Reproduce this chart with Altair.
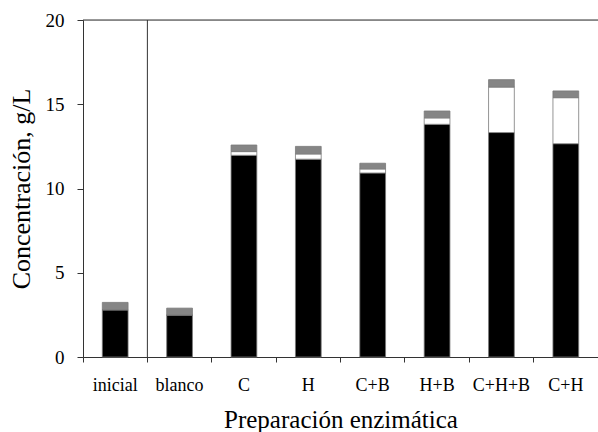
import altair as alt
import pandas as pd

categories = ["inicial", "blanco", "C", "H", "C+B", "H+B", "C+H+B", "C+H"]
black_vals = [2.80, 2.49, 11.97, 11.74, 10.92, 13.81, 13.32, 12.66]
white_vals = [0.00, 0.00, 0.22, 0.31, 0.24, 0.38, 2.70, 2.73]
gray_vals = [0.44, 0.41, 0.39, 0.45, 0.34, 0.41, 0.44, 0.40]
series = ["negro", "blanco_s", "gris"]
series_colors = ["#000000", "#ffffff", "#858585"]

rows = []
for i, c in enumerate(categories):
    for k, (s, vals) in enumerate(zip(series, [black_vals, white_vals, gray_vals])):
        rows.append({"cat": c, "serie": s, "orden": k, "valor": vals[i]})
df = pd.DataFrame(rows)

font = "Liberation Serif"

x_scale = alt.Scale(paddingInner=0, paddingOuter=0)

x_enc = alt.X(
    "cat:N",
    sort=categories,
    scale=x_scale,
    axis=alt.Axis(
        title="Preparación enzimática",
        labelAngle=0,
        labelFontSize=18,
        titleFontSize=25,
        labelPadding=14,
        titlePadding=13,
        tickSize=5,
        ticks=True,
        bandPosition=0,
        domainColor="#333333",
        tickColor="#333333",
        labelColor="#000000",
        titleColor="#000000",
        titleFontWeight="normal",
        labelFont=font,
        titleFont=font,
    ),
)

bars = alt.Chart(df).mark_bar(
    stroke="#7a7a7a", strokeWidth=0.8, width=alt.RelativeBandSize(0.4)
).encode(
    x=x_enc,
    y=alt.Y(
        "sum(valor):Q",
        scale=alt.Scale(domain=[0, 20], nice=False),
        axis=alt.Axis(
            title="Concentración, g/L",
            values=[0, 5, 10, 15, 20],
            grid=False,
            labelFontSize=19,
            titleFontSize=26,
            tickSize=6,
            labelPadding=13,
            titlePadding=11,
            domainColor="#333333",
            tickColor="#333333",
            labelColor="#000000",
            titleColor="#000000",
            titleFontWeight="normal",
            labelFont=font,
            titleFont=font,
        ),
    ),
    color=alt.Color("serie:N", scale=alt.Scale(domain=series, range=series_colors), legend=None),
    order=alt.Order("orden:Q"),
)

sep_df = pd.DataFrame({"cat": ["blanco"]})
sep = alt.Chart(sep_df).mark_rule(color="#333333", strokeWidth=1).encode(
    x=alt.X("cat:N", sort=categories, bandPosition=0),
)

top_df = pd.DataFrame({"v": [20]})
top = alt.Chart(top_df).mark_rule(color="#333333", strokeWidth=1.2).encode(
    y=alt.Y("v:Q"),
)

chart = alt.layer(bars, sep, top).properties(
    width=515,
    height=337,
    autosize=alt.AutoSizeParams(type="none"),
    padding={"left": 83, "top": 20, "right": 0, "bottom": 75},
).configure_view(stroke=None).configure(background="#ffffff", font=font)

chart.save("out.html", embed_options={"renderer": "svg", "actions": False})
